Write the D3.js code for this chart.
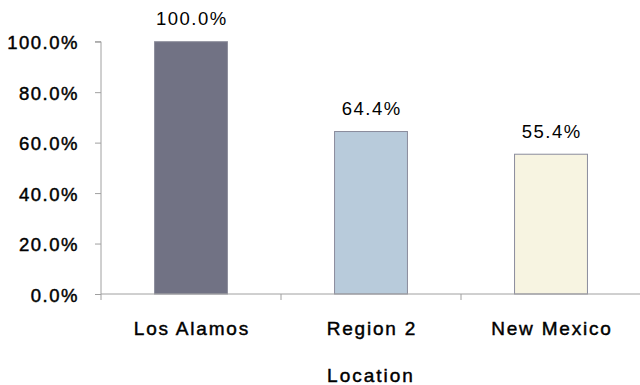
<!DOCTYPE html>
<html><head><meta charset="utf-8">
<script src="https://cdn.jsdelivr.net/npm/d3@7"></script>
<style>
html,body{margin:0;padding:0;background:#fff;}
text{font-family:"Liberation Sans",Arial,sans-serif;fill:#000;}
</style></head>
<body><svg id="c" width="640" height="385"></svg>
<script>
const categories = ["Los Alamos", "Region 2", "New Mexico"];
const values = [100.0, 64.4, 55.4];
const barColors = ["#717284", "#b8cbdb", "#f7f4e1"];
const barStrokes = ["#8d8e9c", "#8a8c9c", "#8a8c9c"];
const yTicks = [0, 20, 40, 60, 80, 100];
const xTitle = "Location";

(function(){
const svg = d3.select("#c");
const mLeft = 101, mRight = 641, mTop = 41.7, mBottom = 294;
const x = d3.scaleBand().domain(categories).range([mLeft, mRight]).padding(0);
const y = d3.scaleLinear().domain([0, 100]).range([mBottom, mTop]);
const barW = x.bandwidth() * 0.405;
const fmt = v => v.toFixed(1) + "%";

// bars
svg.selectAll("rect.bar").data(categories).join("rect")
  .attr("class", "bar")
  .attr("x", d => x(d) + x.bandwidth()/2 - barW/2)
  .attr("y", (d,i) => y(values[i]))
  .attr("width", barW)
  .attr("height", (d,i) => y(0) - y(values[i]))
  .attr("fill", (d,i) => barColors[i])
  .attr("stroke", (d,i) => barStrokes[i])
  .attr("stroke-width", 1);

// y axis
const yAxis = d3.axisLeft(y).tickValues(yTicks).tickFormat(d => fmt(d)).tickSize(6).tickPadding(16);
const gy = svg.append("g").attr("transform", `translate(${mLeft},0)`).call(yAxis);
gy.select(".domain").attr("stroke", "#a0a0a0").attr("d", `M-6,${mTop}H0V${mBottom}`);
gy.selectAll(".tick line").attr("stroke", "#a0a0a0");
gy.selectAll(".tick text").style("font-size", "18.5px").style("letter-spacing", "1.5px")
  .attr("fill", "#000").attr("stroke", "#000").attr("stroke-width", 0.45).attr("dy", "0.38em");

// x axis
const xAxis = d3.axisBottom(x).tickSize(0).tickPadding(0);
const gx = svg.append("g").attr("transform", `translate(0,${mBottom})`).call(xAxis);
gx.select(".domain").attr("stroke", "#a0a0a0").attr("d", `M${mLeft},0H${mRight}`);
gx.selectAll(".tick text").style("font-size", "19px").style("letter-spacing", "1.8px")
  .attr("fill", "#000").attr("stroke", "#000").attr("stroke-width", 0.45)
  .attr("y", 41).attr("dy", 0).attr("dx", "0.9px");
gx.selectAll("line.sep").data(categories).join("line").attr("class", "sep")
  .attr("x1", d => x(d)).attr("x2", d => x(d)).attr("y1", 0).attr("y2", 6)
  .attr("stroke", "#a0a0a0");

// value labels
svg.selectAll("text.val").data(categories).join("text")
  .attr("class", "val")
  .attr("x", d => x(d) + x.bandwidth()/2 + 0.75)
  .attr("y", (d,i) => y(values[i]) - 16.5)
  .attr("text-anchor", "middle")
  .style("font-size", "18.5px")
  .style("letter-spacing", "1.5px")
  .text((d,i) => fmt(values[i]));

// x title
svg.append("text").attr("x", (mLeft + mRight)/2).attr("y", 382)
  .attr("text-anchor", "middle").style("font-size", "19px").style("letter-spacing", "2px")
  .attr("stroke", "#000").attr("stroke-width", 0.45)
  .text(xTitle);
})();
</script></body></html>
